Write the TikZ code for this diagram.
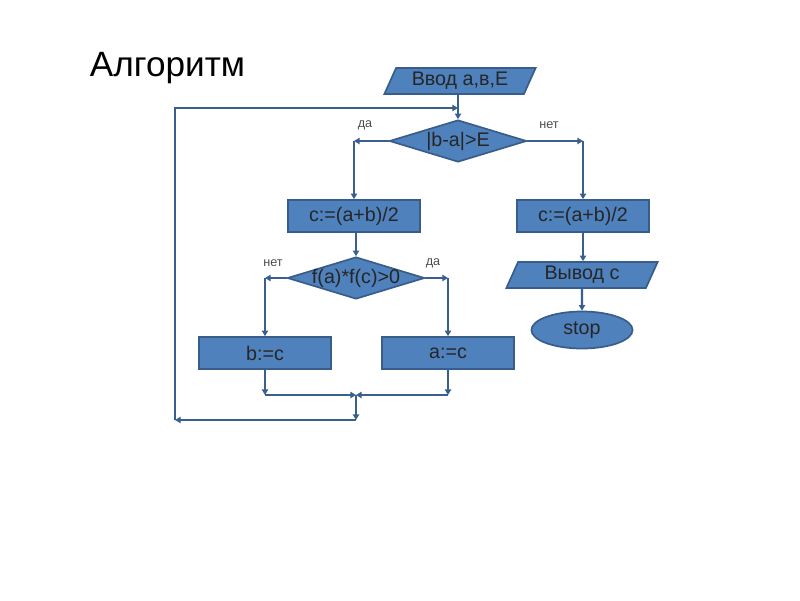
\documentclass[tikz,border=0pt]{standalone}
\usepackage{fontspec}
\setmainfont{Liberation Sans}
\usetikzlibrary{shapes.geometric,arrows.meta}
\definecolor{boxfill}{HTML}{4F81BD}
\definecolor{boxline}{HTML}{385D8A}
\definecolor{flowline}{HTML}{3A5F8E}

\begin{document}
\begin{tikzpicture}[x=0.025cm, y=-0.025cm,
  txt/.style={font=\fontsize{14}{16}\selectfont, text=black!85},
  block/.style={txt, rectangle, fill=boxfill, draw=boxline, line width=1.2pt, minimum width=3.3cm, minimum height=0.8cm},
  decision/.style={diamond, aspect=3.2, inner sep=0pt, fill=boxfill, draw=boxline, line width=1.2pt, minimum width=3.43cm, minimum height=1.05cm, label={[txt]center:#1}},
  io/.style={txt, trapezium, trapezium left angle=60, trapezium right angle=120, trapezium stretches body, inner sep=1pt, fill=boxfill, draw=boxline, line width=1.2pt, minimum width=3.78cm, minimum height=0.65cm},
  term/.style={txt, ellipse, fill=boxfill, draw=boxline, line width=1.2pt, minimum width=2.53cm, minimum height=0.88cm},
  answer/.style={font=\fontsize{9}{10}\selectfont, text=black!70},
  arr/.style={-{Triangle[length=4pt,width=4.5pt]}, draw=flowline, line width=1.5pt}]

  \useasboundingbox (0,0) rectangle (800,600);

  \node[anchor=base west, font=\fontsize{25}{30}\selectfont] (title) at (85,76) {Алгоритм};

  \node[io] (in) at (460,81) {Ввод а,в,Е};
  \node[decision={|b-a|>E}] (d1) at (458,141) {};
  \node[block] (c1) at (354,216) {c:=(a+b)/2};
  \node[block] (c2) at (583,216) {c:=(a+b)/2};
  \node[decision={f(a)*f(c)>0}] (d2) at (356,278) {};
  \node[block] (bc) at (265,353) {b:=c};
  \node[block] (ac) at (448,353) {a:=c};
  \node[io] (out) at (582,275) {Вывод с};
  \node[term] (stop) at (582,330) {stop};

  \node[answer] (yes1) at (365,125) {да};
  \node[answer] (no1) at (549,125) {нет};
  \node[answer] (no2) at (273,263) {нет};
  \node[answer] (yes2) at (433,263) {да};

  \coordinate (m1) at (356,395);
  \coordinate (m2) at (356,420);
  \coordinate (m3) at (175,420);
  \coordinate (m4) at (175,108);
  \coordinate (m5) at (458,108);

  % main line
  \draw[arr] (in.south -| d1.north) -- (d1.north);
  \draw[arr] (d1.west) -- (d1.west -| c1.north);
  \draw[arr] (d1.west -| c1.north) -- (c1.north);
  \draw[arr] (d1.east) -- (d1.east -| c2.north);
  \draw[arr] (d1.east -| c2.north) -- (c2.north);
  \draw[arr] (c1.south -| d2.north) -- (d2.north);

  % inner branch
  \draw[arr] (d2.west) -- (d2.west -| bc.north);
  \draw[arr] (d2.west -| bc.north) -- (bc.north);
  \draw[arr] (d2.east) -- (d2.east -| ac.north);
  \draw[arr] (d2.east -| ac.north) -- (ac.north);
  \draw[arr] (bc.south) -- (bc.south |- m1);
  \draw[arr] (bc.south |- m1) -- (m1);
  \draw[arr] (ac.south) -- (ac.south |- m1);
  \draw[arr] (ac.south |- m1) -- (m1);

  % back to the test
  \draw[arr] (m1) -- (m2);
  \draw[arr] (m2) -- (m3);
  \draw[arr] (m3) -- (m4) -- (m5);

  % output
  \draw[arr] (c2.south) -- (out.north -| c2.south);
  \draw[arr] (out.south) -- (stop.north);
\end{tikzpicture}
\end{document}
